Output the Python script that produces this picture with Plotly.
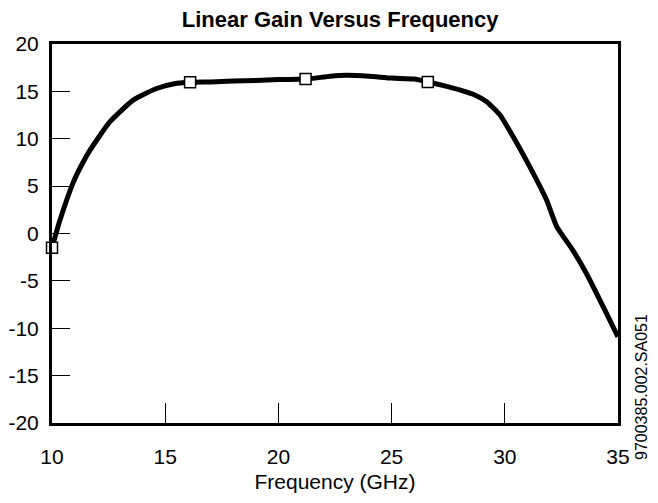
import plotly.graph_objects as go

freq = [10.0, 10.35, 10.94, 11.3, 11.68, 12.56, 13.6, 14.62, 15.4, 16.1, 17.0, 18.0, 19.0, 20.0,
        21.2, 22.3, 23.0, 24.0, 25.0, 26.0, 26.6, 27.3, 28.0, 28.7, 29.2, 29.79, 30.37, 31.1,
        31.85, 32.3, 33.0, 33.6, 34.35, 35.0]
gain = [-1.5, 1.4, 5.4, 7.2, 8.8, 11.8, 14.1, 15.3, 15.8, 15.95, 16.0, 16.1, 16.15, 16.25,
        16.3, 16.6, 16.7, 16.6, 16.4, 16.3, 16.0, 15.6, 15.15, 14.6, 13.9, 12.5, 10.2, 7.05,
        3.5, 0.7, -1.75, -4.2, -7.75, -10.9]

marker_freq = [10.0, 16.1, 21.2, 26.6]
marker_gain = [-1.5, 15.95, 16.3, 16.0]

x_ticks = [10, 15, 20, 25, 30, 35]
y_ticks = [-20, -15, -10, -5, 0, 5, 10, 15, 20]

FONT = "Liberation Sans, Arial, sans-serif"

fig = go.Figure()
fig.add_trace(go.Scatter(x=freq, y=gain, mode="lines",
                         line=dict(color="black", width=5, shape="spline", smoothing=0.5),
                         hoverinfo="skip", showlegend=False))
fig.add_trace(go.Scatter(x=marker_freq, y=marker_gain, mode="markers",
                         marker=dict(symbol="square", size=11, color="white",
                                     line=dict(color="black", width=1.5)),
                         showlegend=False, cliponaxis=False))

fig.update_layout(
    width=650, height=495,
    margin=dict(l=44, r=40, t=36, b=80, autoexpand=False),
    paper_bgcolor="white", plot_bgcolor="white",
    title=dict(text="<b>Linear Gain Versus Frequency</b>", x=0.511, xanchor="center",
               y=1 - 4 / 495, yanchor="top", automargin=False,
               font=dict(family=FONT, size=22, color="black")),
    font=dict(family=FONT, color="black"),
)
fig.update_xaxes(range=[10, 35], tickvals=x_ticks, ticktext=[str(v) for v in x_ticks],
                 showgrid=False, zeroline=False, automargin=False,
                 showline=True, linecolor="black", linewidth=3, mirror=True,
                 ticks="inside", ticklen=20, tickwidth=1, tickcolor="black",
                 ticklabelstandoff=13,
                 tickfont=dict(family=FONT, size=21, color="black"),
                 title=dict(text="Frequency (GHz)", standoff=8,
                            font=dict(family=FONT, size=21, color="black")))
fig.update_yaxes(range=[-20, 20], tickvals=y_ticks, ticktext=[str(v) for v in y_ticks],
                 showgrid=False, zeroline=False, automargin=False,
                 showline=True, linecolor="black", linewidth=3, mirror=True,
                 ticks="inside", ticklen=18, tickwidth=1, tickcolor="black",
                 ticklabelstandoff=6,
                 tickfont=dict(family=FONT, size=21, color="black"))

fig.add_annotation(text="9700385.002.SA051", textangle=-90,
                   xref="paper", yref="paper",
                   x=1 + (633 - 610) / 566, y=1 - (379 - 36) / 379,
                   xanchor="center", yanchor="middle", showarrow=False,
                   font=dict(family=FONT, size=16, color="black"))

fig.write_html("out.html")
